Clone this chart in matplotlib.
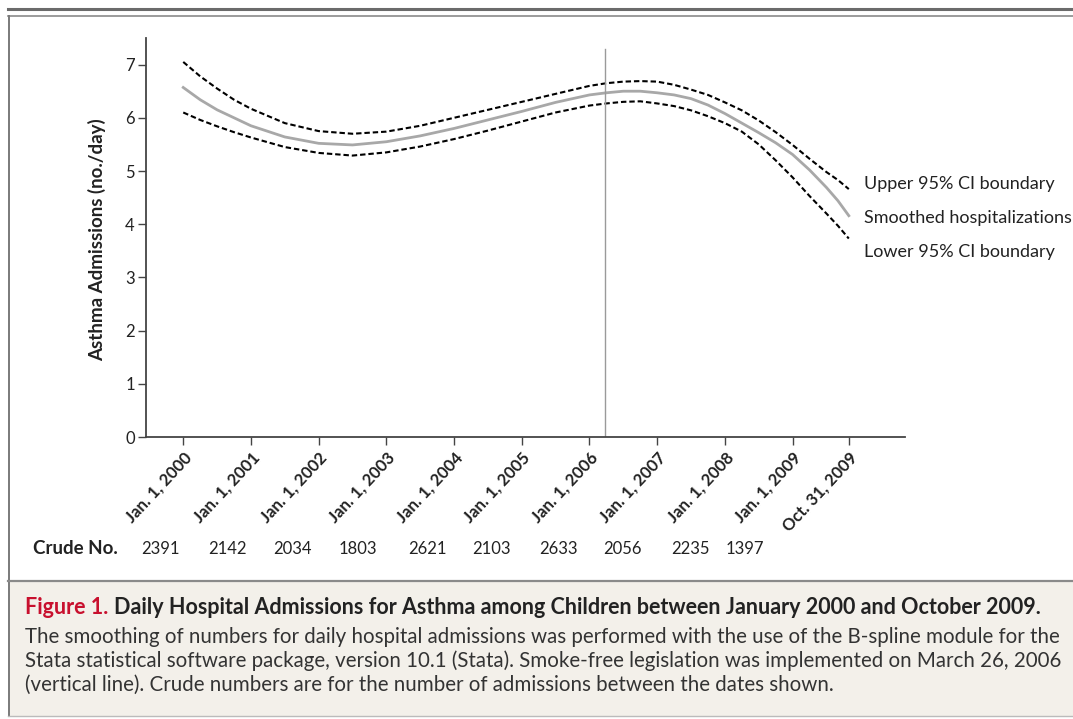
"""
Asthma admissions among children, 2000-2009 (NEJM-style figure)
Writes out.png
"""
import matplotlib
matplotlib.use("Agg")
import matplotlib.pyplot as plt
from matplotlib.lines import Line2D
from matplotlib.patches import Rectangle
import matplotlib.transforms as mtrans

# ── data ───────────────────────────────────────────────────────────────────────
years = [2000.0, 2000.25, 2000.5, 2000.75, 2001.0, 2001.5, 2002.0, 2002.5, 2003.0,
         2003.5, 2004.0, 2004.5, 2005.0, 2005.5, 2006.0, 2006.25, 2006.5, 2006.75,
         2007.0, 2007.25, 2007.5, 2007.75, 2008.0, 2008.25, 2008.5, 2008.75,
         2009.0, 2009.25, 2009.5, 2009.67, 2009.83]
smoothed = [6.57, 6.34, 6.15, 6.00, 5.85, 5.64, 5.52, 5.49, 5.55, 5.66, 5.80,
            5.96, 6.12, 6.29, 6.43, 6.47, 6.50, 6.50, 6.47, 6.43, 6.36, 6.24,
            6.08, 5.90, 5.72, 5.53, 5.31, 5.02, 4.69, 4.44, 4.16]
upper_ci = [7.05, 6.78, 6.55, 6.34, 6.17, 5.90, 5.75, 5.70, 5.74, 5.85, 6.00,
            6.15, 6.30, 6.45, 6.60, 6.65, 6.68, 6.69, 6.68, 6.62, 6.53, 6.43,
            6.29, 6.14, 5.95, 5.73, 5.49, 5.23, 4.98, 4.83, 4.66]
lower_ci = [6.10, 5.96, 5.84, 5.73, 5.63, 5.45, 5.34, 5.29, 5.35, 5.46, 5.60,
            5.76, 5.93, 6.10, 6.23, 6.27, 6.30, 6.31, 6.27, 6.22, 6.14, 6.03,
            5.90, 5.74, 5.50, 5.20, 4.88, 4.53, 4.20, 3.97, 3.73]

tick_pos = [2000, 2001, 2002, 2003, 2004, 2005, 2006, 2007, 2008, 2009, 2009.83]
tick_labels = ["Jan. 1, 2000", "Jan. 1, 2001", "Jan. 1, 2002", "Jan. 1, 2003",
               "Jan. 1, 2004", "Jan. 1, 2005", "Jan. 1, 2006", "Jan. 1, 2007",
               "Jan. 1, 2008", "Jan. 1, 2009", "Oct. 31, 2009"]
crude_no = [2391, 2142, 2034, 1803, 2621, 2103, 2633, 2056, 2235, 1397]
legislation = 2006.23     # March 26, 2006

# ── theme ──────────────────────────────────────────────────────────────────────
W, H = 1073, 719
AXIS = "#444444"
TEXT = "#222222"
GREY_LINE = "#a8a8a8"
RED = "#c8102e"
CAPTION_BG = "#f3f0ea"

plt.rcParams["font.family"] = ["Lato", "DejaVu Sans"]


def fx(x):
    return x / W


def fy(y):
    return 1 - y / H


fig = plt.figure(figsize=(W / 100, H / 100), dpi=100, facecolor="white")
ax = fig.add_axes([fx(146), fy(437), fx(905) - fx(146), fy(38) - fy(437)])

ax.plot(years, upper_ci, color="black", lw=1.5, dashes=(2.6, 1.4))
ax.plot(years, lower_ci, color="black", lw=1.5, dashes=(2.6, 1.4))
ax.plot(years, smoothed, color=GREY_LINE, lw=2)
ax.plot([legislation, legislation], [0, 7.3], color="#9a9a9a", lw=1)

ax.set_xlim(1999.45, 2010.66)
ax.set_ylim(0, 7.5)
for s in ("top", "right"):
    ax.spines[s].set_visible(False)
for s in ("left", "bottom"):
    ax.spines[s].set_color(AXIS)
    ax.spines[s].set_linewidth(1.3)

ax.set_yticks(range(0, 8))
ax.tick_params(axis="y", length=6, width=1, color=AXIS, labelsize=12,
               labelcolor=TEXT, pad=2)
ax.set_xticks(tick_pos)
ax.set_xticklabels(tick_labels, rotation=47, ha="right", va="top",
                   rotation_mode="anchor", fontsize=12, fontweight="bold",
                   color=TEXT)
ax.tick_params(axis="x", length=6, width=1, color=AXIS, pad=3)
ax.set_ylabel("Asthma Admissions (no./day)", fontsize=13.5, fontweight="bold",
              color=TEXT)
ax.yaxis.set_label_coords(-0.053, 0.494)

# end-of-line labels
lab_x = 2010.06
ax.text(lab_x, 4.76, "Upper 95% CI boundary", fontsize=13, color=TEXT, va="center")
ax.text(lab_x, 4.12, "Smoothed hospitalizations", fontsize=13, color=TEXT, va="center")
ax.text(lab_x, 3.48, "Lower 95% CI boundary", fontsize=13, color=TEXT, va="center")

# crude numbers row
blend = mtrans.blended_transform_factory(ax.transData, fig.transFigure)
fig.text(fx(33), fy(549), "Crude No.", fontsize=13.5, fontweight="bold",
         color=TEXT, va="center")
crude_offsets = [-0.33, -0.35, -0.39, -0.42, -0.4, -0.45, -0.46, -0.52, -0.51, -0.71]
for i, n in enumerate(crude_no):
    fig.text(2000 + i + crude_offsets[i], fy(549), str(n), transform=blend,
             fontsize=12, color=TEXT, ha="center", va="center")

# ── frame & caption ────────────────────────────────────────────────────────────
fig.add_artist(Line2D([fx(8), 1], [fy(8.5), fy(8.5)], color="#6b6b6b", lw=2.2))
fig.add_artist(Line2D([fx(8), 1], [fy(16), fy(16)], color="#8a8a8a", lw=1.2))
fig.add_artist(Line2D([fx(8.5), fx(8.5)], [fy(16), fy(716)], color="#7a7a7a", lw=1.4))
fig.add_artist(Rectangle((fx(9), fy(716)), 1 - fx(9), fy(581) - fy(716),
                         transform=fig.transFigure, facecolor=CAPTION_BG,
                         edgecolor="none", zorder=0))
fig.add_artist(Line2D([fx(8), 1], [fy(581), fy(581)], color="#8a8a8a", lw=1.6))
fig.add_artist(Line2D([fx(8), 1], [fy(716), fy(716)], color="#bbbbbb", lw=1))

fig.text(fx(25), fy(607), "Figure 1.", fontsize=15.5, fontweight="bold",
         color=RED, va="center")
fig.text(fx(114), fy(607),
         "Daily Hospital Admissions for Asthma among Children between January 2000 and October 2009.",
         fontsize=15.5, fontweight="bold", color=TEXT, va="center")
body_lines = [
    "The smoothing of numbers for daily hospital admissions was performed with the use of the B-spline module for the",
    "Stata statistical software package, version 10.1 (Stata). Smoke-free legislation was implemented on March 26, 2006",
    "(vertical line). Crude numbers are for the number of admissions between the dates shown.",
]
for k, line in enumerate(body_lines):
    fig.text(fx(25), fy(637 + 24 * k), line, fontsize=14.8, color="#333333",
             va="center")

fig.savefig("out.png", dpi=100, facecolor="white")
